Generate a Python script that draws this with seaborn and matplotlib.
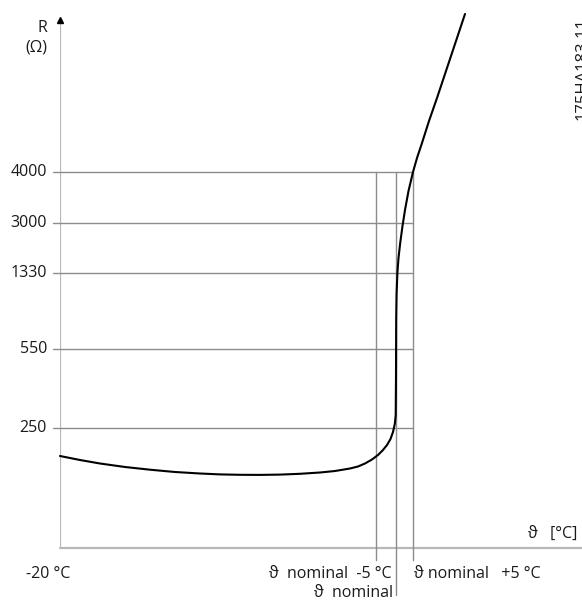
import matplotlib
matplotlib.use('Agg')
import matplotlib.pyplot as plt
import seaborn as sns
import pandas as pd

# diagram units (schematic)
curve_x = [0, 20, 40, 65, 90, 115, 140, 160, 180, 200, 220, 240, 260, 275,
           290, 298, 305, 312, 318, 323, 327, 330.5, 333, 334.8, 335.7, 336,
           336, 336, 336.2, 336.6, 337.4, 338.5, 340.2, 342.5, 345, 348.5,
           353, 357, 362, 369, 377, 385, 393, 399, 405]
curve_y = [92, 88, 84.5, 81, 78.3, 76, 74.5, 73.6, 73.2, 73.1, 73.4, 74.2,
           75.5, 77, 79.5, 81.5, 84.5, 88.5, 93, 98, 103, 109, 116, 124, 133,
           145, 170, 200, 230, 255, 275, 290, 305, 322, 338, 357,
           376, 390, 405, 427, 450, 474, 498, 516, 534]

r_labels = ['4000', '3000', '1330', '550', '250']
r_levels = [376, 325, 275, 199, 120]

t_minus5 = 316
t_nominal = 336
t_plus5 = 353

GRID = '#8c8c8c'
AXIS = '#b8b8b8'

sns.set_theme(style="white")
plt.rcParams['font.family'] = ['Open Sans', 'DejaVu Sans']

fig = plt.figure(figsize=(5.82, 6.01), dpi=100)
ax = fig.add_axes([60 / 582, 53 / 601, 522 / 582, 538 / 601])
ax.set_xlim(0, 522)
ax.set_ylim(0, 538)
ax.axis('off')

# axes
ax.plot([0, 0], [0, 524], color=AXIS, lw=1.6, solid_capstyle='butt')
ax.plot([0, 522], [0, 0], color=AXIS, lw=1.6, clip_on=False)
ax.plot([0], [528], marker='^', color='black', ms=4.5, clip_on=False)

# R levels
for lab, lev in zip(r_labels, r_levels):
    ax.plot([-7, t_plus5], [lev, lev], color=GRID, lw=1, clip_on=False)
    ax.text(-13, lev, lab, ha='right', va='center', fontsize=11.5,
            color='#1a1a1a', clip_on=False)

# temperature markers
top = r_levels[0]
ax.plot([t_minus5, t_minus5], [-12, top], color=GRID, lw=1, clip_on=False)
ax.plot([t_nominal, t_nominal], [-47, top], color=GRID, lw=1, clip_on=False)
ax.plot([t_plus5, t_plus5], [-12, top], color=GRID, lw=1, clip_on=False)

df = pd.DataFrame({'t': curve_x, 'r': curve_y})
sns.lineplot(data=df, x='t', y='r', sort=False, color='black', lw=1.5,
             ax=ax, clip_on=False)

txt = dict(fontsize=11.5, color='#1a1a1a', clip_on=False)
ax.text(-18, 520, 'R', ha='center', va='center', **txt)
ax.text(-24, 501, '(Ω)', ha='center', va='center', **txt)
ax.text(-11.5, -26, '-20 °C', ha='center', va='center', **txt)
ax.text(332, -26, 'ϑ  nominal  -5 °C', ha='right', va='center', **txt)
ax.text(354, -26, 'ϑ nominal   +5 °C', ha='left', va='center', **txt)
ax.text(333, -45, 'ϑ  nominal', ha='right', va='center', **txt)
ax.text(468, 14, 'ϑ   [°C]', ha='left', va='center', **txt)
ax.text(523, 479, '175HA183.11', ha='center', va='center', rotation=90,
        fontsize=12, color='#1a1a1a', clip_on=False)

fig.savefig('out.png', dpi=100)
plt.close('all')
